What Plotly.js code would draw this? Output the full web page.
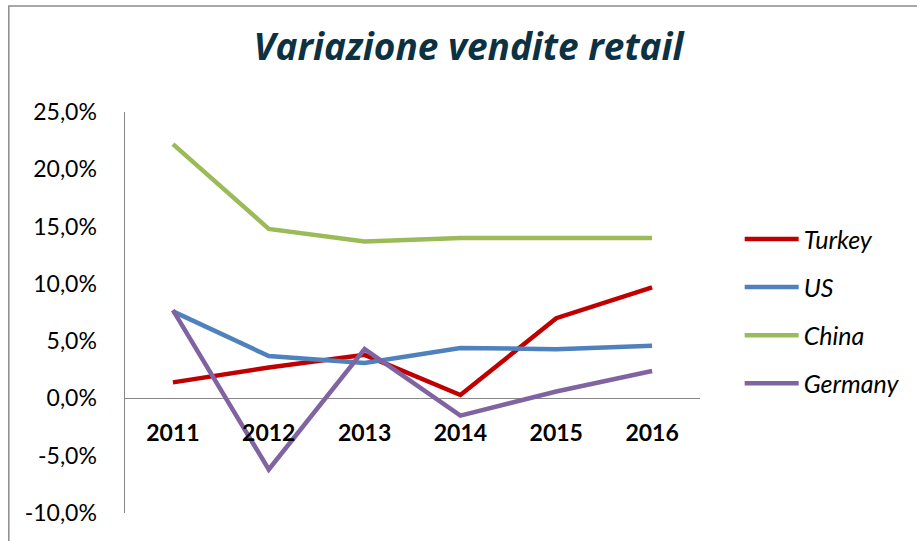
<!DOCTYPE html>
<html>
<head>
<meta charset="utf-8">
<script src="https://cdn.plot.ly/plotly-3.0.1.min.js"></script>
<style>
html,body{margin:0;padding:0;background:#fff;}
#chart{width:917px;height:541px;}
</style>
</head>
<body>
<div id="chart"></div>
<script>
var years = ["2011","2012","2013","2014","2015","2016"];
var turkey = [1.4, 2.7, 3.8, 0.3, 7.0, 9.7];
var us = [7.6, 3.7, 3.1, 4.4, 4.3, 4.6];
var china = [22.2, 14.8, 13.7, 14.0, 14.0, 14.0];
var germany = [7.7, -6.2, 4.3, -1.5, 0.6, 2.4];
var seriesNames = ["Turkey","US","China","Germany"];
var seriesColors = ["#C00000","#4F81BD","#9BBB59","#8064A2"];
var yTickVals = [-10,-5,0,5,10,15,20,25];
var yTickText = ["-10,0%","-5,0%","0,0%","5,0%","10,0%","15,0%","20,0%","25,0%"];

var allSeries = [turkey, us, china, germany];
var traces = allSeries.map(function(vals, i){
  return {
    x: years, y: vals, type: "scatter", mode: "lines",
    name: seriesNames[i], legendgroup: "g"+i,
    line: {color: seriesColors[i], width: 4.5}
  };
});

var layout = {
  width: 917, height: 541,
  margin: {l:125, r:213, t:112, b:28},
  paper_bgcolor: "#fff", plot_bgcolor: "#fff",
  font: {family: "Lato, 'Open Sans', sans-serif", color: "#000"},
  title: {
    text: "<b><i>Variazione vendite retail</i></b>",
    font: {family: "'Open Sans', Lato, sans-serif", size: 37, color: "#0B3142"},
    x: 0.511, xref: "container", xanchor: "center",
    y: 0.913, yref: "container", yanchor: "middle"
  },
  xaxis: {
    type: "category",
    anchor: "free", position: 0.2843,
    showline: false, showgrid: false, zeroline: false,
    ticks: "", ticklabelstandoff: 18,
    tickfont: {size: 23, weight: "bold", color: "#000"},
    range: [-0.5, 5.5], fixedrange: true
  },
  yaxis: {
    range: [-10, 25],
    tickvals: yTickVals, ticktext: yTickText,
    showgrid: false,
    showline: true, linecolor: "#868686", linewidth: 1.5,
    zeroline: true, zerolinecolor: "#868686", zerolinewidth: 1.5,
    ticks: "", ticklabelstandoff: 22,
    tickfont: {size: 23, color: "#000"},
    fixedrange: true
  },
  showlegend: true,
  legend: {
    x: 1.069, xanchor: "left", y: 0.74, yanchor: "top",
    font: {size: 25, style: "italic", color: "#000"},
    tracegroupgap: 12.6, itemwidth: 54,
    bgcolor: "rgba(0,0,0,0)"
  },
  shapes: [{
    type: "rect", xref: "paper", yref: "paper",
    x0: (8-125)/579, x1: (930-125)/579,
    y0: (513-560)/401, y1: (513-6)/401,
    line: {color: "#8C8C8C", width: 1.5}, fillcolor: "rgba(0,0,0,0)", layer: "below"
  }]
};

Plotly.newPlot("chart", traces, layout, {displayModeBar: false, staticPlot: true});
</script>
</body>
</html>
